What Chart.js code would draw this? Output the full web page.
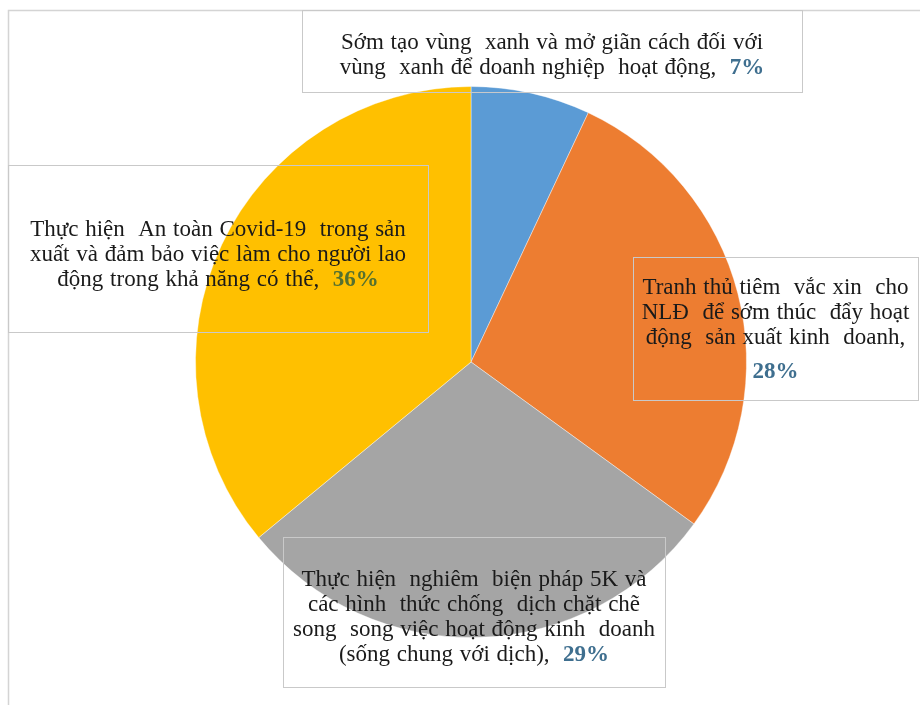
<!DOCTYPE html>
<html lang="vi">
<head>
  <meta charset="UTF-8">
  <title>Giải pháp doanh nghiệp</title>
  <script src="https://cdn.jsdelivr.net/npm/chart.js"></script>
  <style>
    html, body { margin: 0; padding: 0; background: #fff; }
    .khung { position: relative; width: 920px; height: 705px; }
  </style>
</head>
<body>
  <div class="khung">
    <canvas id="bieuDo" width="920" height="705"></canvas>
  </div>

  <script>
    // Dữ liệu biểu đồ
    const nhanDanhMuc = [
      ['Sớm tạo vùng  xanh và mở giãn cách đối với', 'vùng  xanh để doanh nghiệp  hoạt động,'],
      ['Tranh thủ tiêm  vắc xin  cho', 'NLĐ  để sớm thúc  đẩy hoạt', 'động  sản xuất kinh  doanh,'],
      ['Thực hiện  nghiêm  biện pháp 5K và', 'các hình  thức chống  dịch chặt chẽ', 'song  song việc hoạt động kinh  doanh', '(sống chung với dịch),'],
      ['Thực hiện  An toàn Covid-19  trong sản', 'xuất và đảm bảo việc làm cho người lao', 'động trong khả năng có thể,']
    ];
    const giaTri = [7, 28, 29, 36];
    const mauLat = ['#5B9BD5', '#ED7D31', '#A5A5A5', '#FFC000'];

    // Khung nhãn (vị trí hộp, dòng cuối có % nằm cùng dòng hay xuống dòng)
    const hopNhan = [
      { x: 302, y: 10, w: 500, h: 82, dong1: 43, cachDong: 25, tachPhanTram: false, mauPT: '#3F6F8F' },
      { x: 633, y: 257, w: 285, h: 143, dong1: 288, cachDong: 25, tachPhanTram: true, mauPT: '#3F6F8F' },
      { x: 283, y: 537, w: 382, h: 150, dong1: 580, cachDong: 25, tachPhanTram: false, mauPT: '#3F6F8F' },
      { x: 8, y: 165, w: 420, h: 167, dong1: 230, cachDong: 25, tachPhanTram: false, mauPT: '#55702F' }
    ];

    const FONT_CHU = '23px "Liberation Serif", "Times New Roman", serif';
    const FONT_PT = 'bold 23px "Liberation Serif", "Times New Roman", serif';

    // Khung viền ngoài
    const khungNgoai = {
      id: 'khungNgoai',
      beforeDraw(chart) {
        const c = chart.ctx;
        c.save();
        c.strokeStyle = '#d4d4d4';
        c.lineWidth = 1.5;
        c.beginPath();
        c.moveTo(8.5, 705);
        c.lineTo(8.5, 10.5);
        c.lineTo(920, 10.5);
        c.stroke();
        c.restore();
      }
    };

    // Vẽ hộp nhãn và chữ
    const nhanHop = {
      id: 'nhanHop',
      afterDatasetsDraw(chart) {
        const c = chart.ctx;
        const nhan = chart.data.labels;
        const duLieu = chart.data.datasets[0].data;
        c.save();
        c.textBaseline = 'middle';
        c.textAlign = 'left';
        c.wordSpacing = '1px';
        hopNhan.forEach((h, i) => {
          c.strokeStyle = '#c9c9c9';
          c.lineWidth = 1;
          c.strokeRect(h.x + 0.5, h.y + 0.5, h.w, h.h);

          const cx = h.x + h.w / 2;
          const dong = nhan[i].slice();
          const pt = duLieu[i] + '%';
          dong.forEach((text, k) => {
            const y = h.dong1 + k * h.cachDong;
            const laCuoi = k === dong.length - 1;
            if (laCuoi && !h.tachPhanTram) {
              c.font = FONT_CHU;
              const t = text + '  ';
              const w1 = c.measureText(t).width;
              c.font = FONT_PT;
              const w2 = c.measureText(pt).width;
              let x = cx - (w1 + w2) / 2;
              c.font = FONT_CHU;
              c.fillStyle = '#1a1a1a';
              c.fillText(t, x, y);
              c.font = FONT_PT;
              c.fillStyle = h.mauPT;
              c.fillText(pt, x + w1, y);
            } else {
              c.font = FONT_CHU;
              c.fillStyle = '#1a1a1a';
              const w = c.measureText(text).width;
              c.fillText(text, cx - w / 2, y);
            }
          });
          if (h.tachPhanTram) {
            const y = h.dong1 + dong.length * h.cachDong + 9;
            c.font = FONT_PT;
            c.fillStyle = h.mauPT;
            const w = c.measureText(pt).width;
            c.fillText(pt, cx - w / 2, y);
          }
        });
        c.restore();
      }
    };

    const ctx = document.getElementById('bieuDo').getContext('2d');
    const bieuDo = new Chart(ctx, {
      type: 'pie',
      data: {
        labels: nhanDanhMuc,
        datasets: [{
          data: giaTri,
          backgroundColor: mauLat,
          borderColor: 'rgba(255,255,255,0.4)',
          borderWidth: 1
        }]
      },
      options: {
        responsive: false,
        animation: false,
        layout: {
          padding: { top: 86, bottom: 67, left: 195, right: 173 }
        },
        plugins: {
          legend: { display: false },
          tooltip: { enabled: false }
        }
      },
      plugins: [khungNgoai, nhanHop]
    });
  </script>
</body>
</html>
